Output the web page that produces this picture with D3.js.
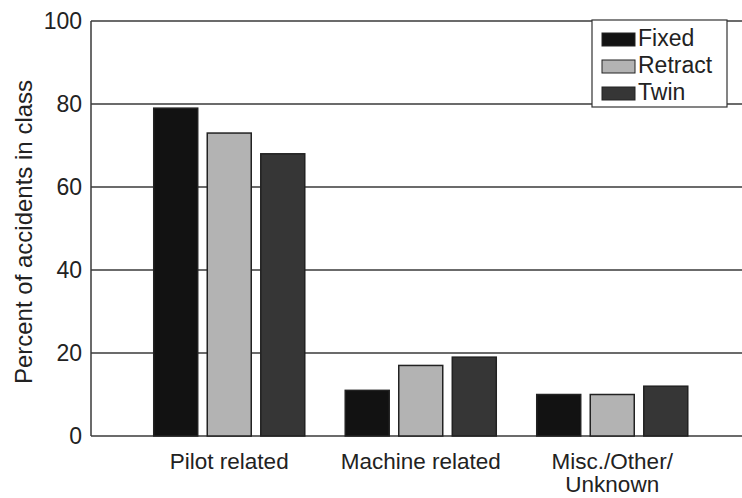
<!DOCTYPE html>
<html>
<head>
<meta charset="utf-8">
<script src="https://cdn.jsdelivr.net/npm/d3@7"></script>
<style>
  body { margin: 0; background: #fff; }
  text { font-family: 'Liberation Sans', Arial, sans-serif; fill: #222; }
</style>
</head>
<body>
<div id="chart"></div>
<script>
const categories = ['Pilot related', 'Machine related', 'Misc./Other/\nUnknown']
const series = ['Fixed', 'Retract', 'Twin']
const fixedValues = [79, 11, 10]
const retractValues = [73, 17, 10]
const twinValues = [68, 19, 12]
const yTicks = [0, 20, 40, 60, 80, 100]

const colors = { Fixed: '#121212', Retract: '#b3b3b3', Twin: '#363636' }

const width = 742
const height = 498
const margin = { top: 21, left: 91, right: 0, bottom: 62 }

const rows = categories.map((c, i) => ({
  category: c,
  Fixed: fixedValues[i],
  Retract: retractValues[i],
  Twin: twinValues[i]
}))

const svg = d3
  .select('#chart')
  .append('svg')
  .attr('width', width)
  .attr('height', height)

const y = d3
  .scaleLinear()
  .domain([0, 100])
  .range([height - margin.bottom, margin.top])

const x0 = d3
  .scaleBand()
  .domain(categories)
  .range([133.5, 708])
  .padding(0)

const x1 = d3
  .scaleBand()
  .domain(series)
  .range([0, x0.bandwidth()])
  .paddingInner(0.178)
  .paddingOuter(0.378)

// gridlines
svg
  .append('g')
  .selectAll('line')
  .data(yTicks)
  .enter()
  .append('line')
  .attr('x1', margin.left)
  .attr('x2', width)
  .attr('y1', d => y(d))
  .attr('y2', d => y(d))
  .attr('stroke', '#3a3a3a')
  .attr('stroke-width', 1.5)

// y axis line
svg
  .append('line')
  .attr('x1', margin.left)
  .attr('x2', margin.left)
  .attr('y1', y(0))
  .attr('y2', y(100))
  .attr('stroke', '#3a3a3a')
  .attr('stroke-width', 1.5)

svg
  .append('g')
  .selectAll('text')
  .data(yTicks)
  .enter()
  .append('text')
  .attr('x', margin.left - 9)
  .attr('y', d => y(d))
  .attr('dy', '0.35em')
  .attr('text-anchor', 'end')
  .style('font-size', '23px')
  .text(d => d)

svg
  .append('text')
  .attr('transform', 'translate(32,232) rotate(-90)')
  .attr('text-anchor', 'middle')
  .style('font-size', '24px')
  .text('Percent of accidents in class')

// bars
const groups = svg
  .append('g')
  .selectAll('g')
  .data(rows)
  .enter()
  .append('g')
  .attr('transform', d => 'translate(' + x0(d.category) + ',0)')

groups
  .selectAll('rect')
  .data(d => series.map(s => ({ key: s, value: d[s] })))
  .enter()
  .append('rect')
  .attr('x', d => x1(d.key))
  .attr('width', x1.bandwidth())
  .attr('y', d => y(d.value))
  .attr('height', d => y(0) - y(d.value))
  .attr('fill', d => colors[d.key])
  .attr('stroke', '#222')
  .attr('stroke-width', 1.5)

// category labels, one text per line
svg
  .append('g')
  .selectAll('g')
  .data(categories)
  .enter()
  .append('g')
  .each(function(d) {
    d3.select(this)
      .selectAll('text')
      .data(d.split('\n'))
      .enter()
      .append('text')
      .attr('x', x0(d) + x0.bandwidth() / 2)
      .attr('y', (l, i) => 469 + i * 23)
      .attr('text-anchor', 'middle')
      .style('font-size', '22.5px')
      .text(l => l)
  })

// legend
const legend = svg.append('g').attr('transform', 'translate(592,20)')
legend
  .append('rect')
  .attr('width', 135)
  .attr('height', 87)
  .attr('fill', '#fff')
  .attr('stroke', '#333')
  .attr('stroke-width', 1.2)

const item = legend
  .selectAll('g')
  .data(series)
  .enter()
  .append('g')
  .attr('transform', (d, i) => 'translate(10,' + (13 + i * 27) + ')')

item
  .append('rect')
  .attr('width', 33)
  .attr('height', 13)
  .attr('fill', d => colors[d])
  .attr('stroke', '#222')
  .attr('stroke-width', 1)

item
  .append('text')
  .attr('x', 36)
  .attr('y', 13)
  .style('font-size', '23px')
  .text(d => d)
</script>
</body>
</html>
